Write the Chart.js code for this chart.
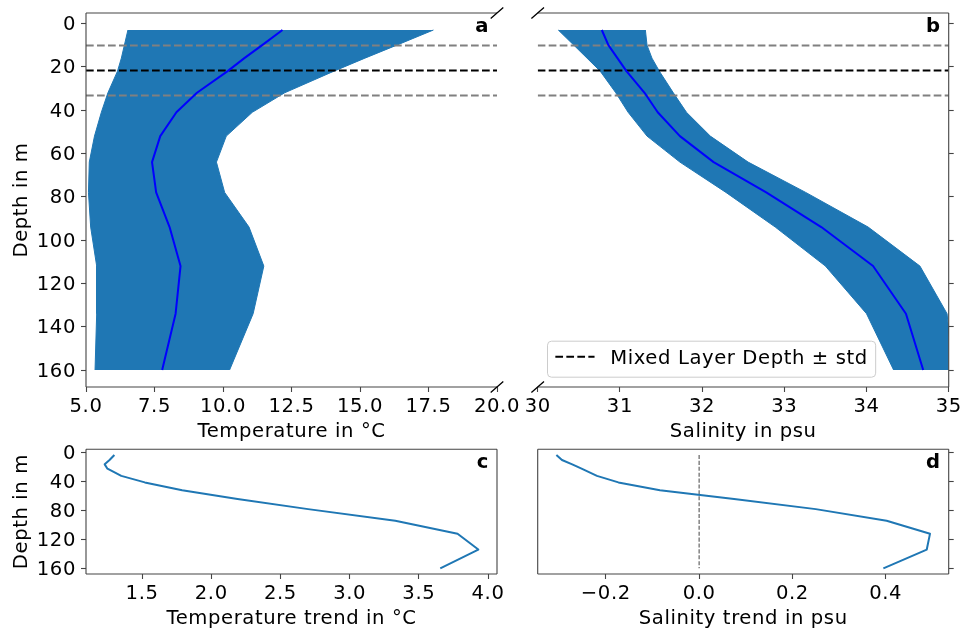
<!DOCTYPE html>
<html><head><meta charset="utf-8">
<script src="https://cdn.jsdelivr.net/npm/chart.js@4.4.0/dist/chart.umd.min.js"></script>
<style>html,body{margin:0;padding:0;background:#fff;overflow:hidden;width:962px;height:632px}canvas{position:absolute;left:0;top:0}</style>
</head><body>
<canvas id="ca" width="962" height="632"></canvas>
<canvas id="cb" width="962" height="632"></canvas>
<canvas id="cc" width="962" height="632"></canvas>
<canvas id="cd" width="962" height="632"></canvas>
<script>
// ---------------- data ----------------
const depth = [3, 10, 16, 22, 32, 41, 52, 64, 78, 94, 112, 134, 160];
const tempMean  = [12.17, 11.43, 10.78, 10.17, 9.05, 8.30, 7.71, 7.41, 7.56, 8.05, 8.45, 8.27, 7.78];
const tempLower = [6.53, 6.40, 6.29, 6.15, 5.80, 5.56, 5.31, 5.12, 5.09, 5.17, 5.39, 5.39, 5.33];
const tempUpper = [17.68, 16.34, 15.18, 14.05, 12.25, 11.07, 10.12, 9.76, 10.06, 10.95, 11.49, 11.10, 10.24];
const salMean  = [30.78, 30.86, 30.97, 31.08, 31.30, 31.46, 31.73, 32.14, 32.78, 33.45, 34.08, 34.48, 34.69];
const salLower = [30.25, 30.44, 30.60, 30.76, 30.95, 31.10, 31.33, 31.73, 32.29, 32.89, 33.50, 34.00, 34.33];
const salUpper = [31.31, 31.33, 31.39, 31.48, 31.65, 31.81, 32.10, 32.56, 33.26, 34.02, 34.65, 34.98, 35.05];
const tempTrend = [1.30, 1.265, 1.23, 1.25, 1.35, 1.52, 1.79, 2.19, 2.70, 3.33, 3.78, 3.93, 3.655];
const salTrend  = [-0.306, -0.294, -0.272, -0.252, -0.219, -0.173, -0.084, 0.075, 0.25, 0.402, 0.495, 0.488, 0.395];
const mld = 21.7;
const mldStd = 11.5;
const legendLabel = 'Mixed Layer Depth \u00b1 std';

const depthTicksTop = [0, 20, 40, 60, 80, 100, 120, 140, 160];
const depthTickLabelsTop = ['0', '20', '40', '60', '80', '100', '120', '140', '160'];
const depthTicksBottom = [0, 40, 80, 120, 160];
const depthTickLabelsBottom = ['0', '40', '80', '120', '160'];
const tempTicks = [5, 7.5, 10, 12.5, 15, 17.5, 20];
const tempTickLabels = ['5.0', '7.5', '10.0', '12.5', '15.0', '17.5', '20.0'];
const salTicks = [30, 31, 32, 33, 34, 35];
const salTickLabels = ['30', '31', '32', '33', '34', '35'];
const tTrendTicks = [1.5, 2.0, 2.5, 3.0, 3.5, 4.0];
const tTrendTickLabels = ['1.5', '2.0', '2.5', '3.0', '3.5', '4.0'];
const sTrendTicks = [-0.2, 0.0, 0.2, 0.4];
const sTrendTickLabels = ['\u22120.2', '0.0', '0.2', '0.4'];
const tempRange = [5, 20];
const salRange = [30, 35];

// ---------------- style / layout ----------------
const W = 962, H = 632;
const FS = 19.6, FONT = 'DejaVu Sans';
const LETTER_SPACING = '0.6px';
const SPINE = '#444';
const C0 = '#1f77b4';
const DASH = [7.7, 3.3];
const PANELS = {
  a: {left: 86, top: 13, right: 497, bottom: 387},
  b: {left: 537.7, top: 13, right: 948.7, bottom: 387},
  c: {left: 86, top: 449.3, right: 497, bottom: 574},
  d: {left: 537.7, top: 449.3, right: 948.7, bottom: 574}
};
const XAXIS_H = 57;

Chart.defaults.font.family = FONT;
Chart.defaults.font.size = FS;
Chart.defaults.color = '#000';
Chart.defaults.elements.point.radius = 0;
Chart.defaults.elements.line.tension = 0;

const pts = (xs, ys) => xs.map((x, i) => ({x: x, y: ys[i]}));
const hline = (d, r) => [{x: r[0], y: d}, {x: r[1], y: d}];
const autoRange = arr => { const mn = Math.min(...arr), mx = Math.max(...arr), m = 0.05 * (mx - mn); return [mn - m, mx + m]; };
const depthRange = autoRange(depth);
const zeroPads = s => { s.paddingLeft = 0; s.paddingRight = 0; s.paddingTop = 0; s.paddingBottom = 0; };

function xScale(range, ticks, labels, title) {
  return {
    type: 'linear', position: 'bottom', min: range[0], max: range[1],
    afterBuildTicks: s => { s.ticks = ticks.map(v => ({value: v})); },
    afterFit: s => { s.height = XAXIS_H; zeroPads(s); },
    ticks: {autoSkip: false, maxRotation: 0, minRotation: 0, padding: 3, color: '#000', font: {size: FS},
            callback: (v, i) => labels[i]},
    grid: {display: true, drawOnChartArea: false, drawTicks: true, tickLength: 5, tickColor: SPINE, tickWidth: 1.1},
    border: {display: false},
    title: {display: true, text: title, color: '#000', font: {size: FS}, padding: 0}
  };
}
function yScale(pos, width, ticks, labels, title) {
  return {
    type: 'linear', position: pos, reverse: true, min: depthRange[0], max: depthRange[1],
    afterBuildTicks: s => { s.ticks = ticks.map(v => ({value: v})); },
    afterFit: s => { s.width = width; zeroPads(s); },
    ticks: {display: !!labels, autoSkip: false, padding: 5, labelOffset: 1.5, color: '#000', font: {size: FS},
            callback: (v, i) => labels ? labels[i] : ''},
    grid: {display: true, drawOnChartArea: false, drawTicks: true, tickLength: 5, tickColor: SPINE, tickWidth: 1.1},
    border: {display: false},
    title: title ? {display: true, text: title, color: '#000', font: {size: FS}, padding: {top: 10.5, bottom: 0}} : {display: false}
  };
}

const spacingPlugin = {
  id: 'spacing',
  beforeDraw(chart) { try { chart.ctx.letterSpacing = LETTER_SPACING; } catch (e) {} }
};

const framePlugin = {
  id: 'frame',
  afterDatasetsDraw(chart, args, o) {
    const ctx = chart.ctx, a = chart.chartArea;
    ctx.save();
    ctx.strokeStyle = SPINE; ctx.lineWidth = 1.1;
    ctx.beginPath();
    if (o.sides.includes('l')) { ctx.moveTo(a.left, a.top); ctx.lineTo(a.left, a.bottom); }
    if (o.sides.includes('r')) { ctx.moveTo(a.right, a.top); ctx.lineTo(a.right, a.bottom); }
    if (o.sides.includes('t')) { ctx.moveTo(a.left, a.top); ctx.lineTo(a.right, a.top); }
    if (o.sides.includes('b')) { ctx.moveTo(a.left, a.bottom); ctx.lineTo(a.right, a.bottom); }
    ctx.stroke();
    if (o.breakSide) {
      const bx = o.breakSide === 'r' ? a.right : a.left;
      ctx.strokeStyle = '#000'; ctx.lineWidth = 1.3;
      ctx.beginPath();
      for (const by of [a.top, a.bottom]) {
        ctx.moveTo(bx - 6.3, by + 5.6); ctx.lineTo(bx + 6.3, by - 5.6);
      }
      ctx.stroke();
    }
    ctx.font = 'bold ' + FS + 'px "' + FONT + '"';
    ctx.textAlign = 'right'; ctx.textBaseline = 'alphabetic'; ctx.fillStyle = '#000';
    ctx.fillText(o.letter, a.right - 8, a.top + 19);
    if (o.legend) {
      const pad = 0.4 * FS, hl = 2 * FS, htp = 0.8 * FS, axp = 0.5 * FS;
      ctx.font = FS + 'px "' + FONT + '"';
      const tw = ctx.measureText(o.legend).width;
      const bw = pad + hl + htp + tw + pad, bh = 36;
      const x0 = a.left + axp, y0 = a.bottom - axp - bh;
      ctx.beginPath();
      if (ctx.roundRect) ctx.roundRect(x0, y0, bw, bh, 4); else ctx.rect(x0, y0, bw, bh);
      ctx.fillStyle = 'rgba(255,255,255,0.8)'; ctx.fill();
      ctx.strokeStyle = '#cccccc'; ctx.lineWidth = 1; ctx.stroke();
      ctx.beginPath();
      ctx.setLineDash(DASH); ctx.strokeStyle = '#000'; ctx.lineWidth = 2;
      ctx.moveTo(x0 + pad, y0 + 15.5); ctx.lineTo(x0 + pad + hl, y0 + 15.5); ctx.stroke();
      ctx.setLineDash([]);
      ctx.fillStyle = '#000'; ctx.textAlign = 'left'; ctx.textBaseline = 'alphabetic';
      ctx.fillText(o.legend, x0 + pad + hl + htp, y0 + bh / 2 + 5);
    }
    ctx.restore();
  }
};

function layoutFor(p, yPos) {
  return {padding: {
    left: yPos === 'left' ? 0 : p.left,
    right: yPos === 'left' ? W - p.right : 0,
    top: p.top,
    bottom: H - p.bottom - XAXIS_H
  }};
}
function baseOptions(p, yPos, xs, ys, frame) {
  return {
    indexAxis: 'y', responsive: false, animation: false, events: [], devicePixelRatio: 1,
    layout: layoutFor(p, yPos),
    plugins: {legend: {display: false}, tooltip: {enabled: false}, frame: frame},
    scales: {x: xs, y: ys}
  };
}
function lineDs(data, color, width, extra) {
  return Object.assign({data: data, borderColor: color, borderWidth: width, fill: false, pointRadius: 0,
                        borderJoinStyle: 'round', borderCapStyle: 'butt'}, extra || {});
}
function profileDatasets(mean, lower, upper, xr) {
  return [
    lineDs(pts(mean, depth), '#0000ff', 2),
    lineDs(hline(mld, xr), '#000000', 2, {borderDash: DASH}),
    lineDs(hline(mld - mldStd, xr), '#808080', 2, {borderDash: DASH}),
    lineDs(hline(mld + mldStd, xr), '#808080', 2, {borderDash: DASH}),
    lineDs(pts(upper, depth), C0, 1, {fill: '+1', backgroundColor: C0}),
    lineDs(pts(lower, depth), C0, 1)
  ];
}

// Panel a
new Chart(document.getElementById('ca'), {
  type: 'line',
  data: {datasets: profileDatasets(tempMean, tempLower, tempUpper, tempRange)},
  options: baseOptions(PANELS.a, 'left',
    xScale(tempRange, tempTicks, tempTickLabels, 'Temperature in \u00b0C'),
    yScale('left', PANELS.a.left, depthTicksTop, depthTickLabelsTop, 'Depth in m'),
    {sides: 'ltb', breakSide: 'r', letter: 'a'}),
  plugins: [spacingPlugin, framePlugin]
});
// Panel b
new Chart(document.getElementById('cb'), {
  type: 'line',
  data: {datasets: profileDatasets(salMean, salLower, salUpper, salRange)},
  options: baseOptions(PANELS.b, 'right',
    xScale(salRange, salTicks, salTickLabels, 'Salinity in psu'),
    yScale('right', W - PANELS.b.right, depthTicksTop, null, null),
    {sides: 'rtb', breakSide: 'l', letter: 'b', legend: legendLabel}),
  plugins: [spacingPlugin, framePlugin]
});
// Panel c
new Chart(document.getElementById('cc'), {
  type: 'line',
  data: {datasets: [lineDs(pts(tempTrend, depth), C0, 2)]},
  options: baseOptions(PANELS.c, 'left',
    xScale(autoRange(tempTrend), tTrendTicks, tTrendTickLabels, 'Temperature trend in \u00b0C'),
    yScale('left', PANELS.c.left, depthTicksBottom, depthTickLabelsBottom, 'Depth in m'),
    {sides: 'ltrb', letter: 'c'}),
  plugins: [spacingPlugin, framePlugin]
});
// Panel d
new Chart(document.getElementById('cd'), {
  type: 'line',
  data: {datasets: [
    lineDs(pts(salTrend, depth), C0, 2),
    lineDs([{x: 0, y: depth[0]}, {x: 0, y: depth[depth.length - 1]}], '#555555', 1.1, {borderDash: [4.1, 1.8]})
  ]},
  options: baseOptions(PANELS.d, 'right',
    xScale(autoRange(salTrend), sTrendTicks, sTrendTickLabels, 'Salinity trend in psu'),
    yScale('right', W - PANELS.d.right, depthTicksBottom, null, null),
    {sides: 'ltrb', letter: 'd'}),
  plugins: [spacingPlugin, framePlugin]
});
</script>
</body></html>
